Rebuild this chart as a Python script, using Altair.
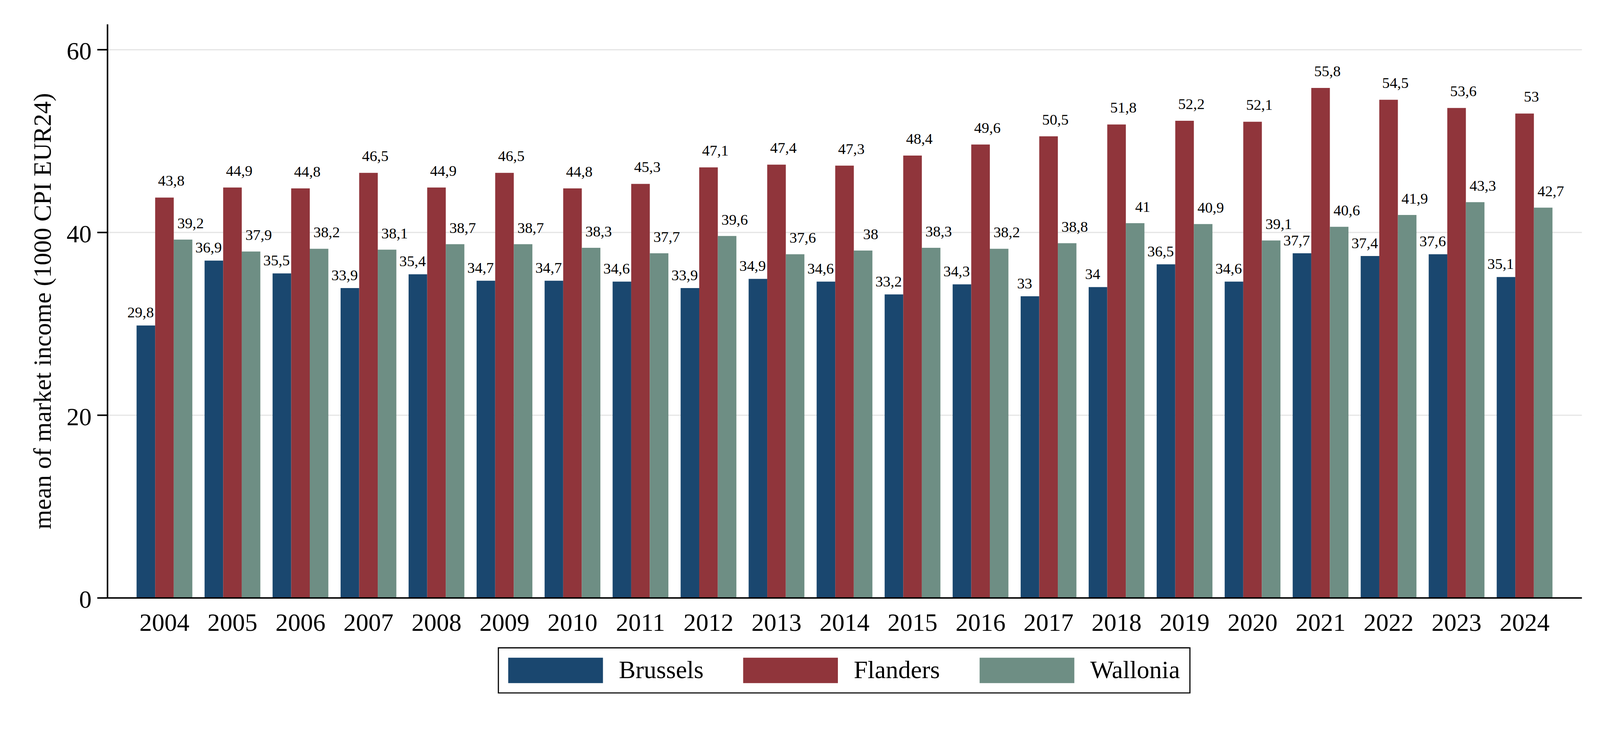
import altair as alt
import pandas as pd

years = [str(y) for y in range(2004, 2025)]
regions = ["Brussels", "Flanders", "Wallonia"]
brussels = [29.8, 36.9, 35.5, 33.9, 35.4, 34.7, 34.7, 34.6, 33.9, 34.9, 34.6,
            33.2, 34.3, 33.0, 34.0, 36.5, 34.6, 37.7, 37.4, 37.6, 35.1]
flanders = [43.8, 44.9, 44.8, 46.5, 44.9, 46.5, 44.8, 45.3, 47.1, 47.4, 47.3,
            48.4, 49.6, 50.5, 51.8, 52.2, 52.1, 55.8, 54.5, 53.6, 53.0]
wallonia = [39.2, 37.9, 38.2, 38.1, 38.7, 38.7, 38.3, 37.7, 39.6, 37.6, 38.0,
            38.3, 38.2, 38.8, 41.0, 40.9, 39.1, 40.6, 41.9, 43.3, 42.7]
colors = ["#1a476f", "#90353b", "#6e8e84"]
y_ticks = [0, 20, 40, 60]

rows = []
for i, yr in enumerate(years):
    for r, vals in zip(regions, [brussels, flanders, wallonia]):
        v = vals[i]
        rows.append({"year": yr, "region": r, "value": v,
                     "label": f"{v:g}".replace(".", ",")})
df = pd.DataFrame(rows)

FONT = "Liberation Serif"
W, H = 3891, 1513

x_enc = alt.X(
    "year:O", title=None, sort=years,
    scale=alt.Scale(paddingInner=0.18, paddingOuter=0.43),
    axis=alt.Axis(labelAngle=0, ticks=False, tickSize=0, labelPadding=35,
                  labelFont=FONT, labelFontSize=66, labelColor="black",
                  domainColor="black", domainWidth=4, grid=False, zindex=1),
)
xoff_enc = alt.XOffset("region:N", sort=regions,
                       scale=alt.Scale(paddingInner=0, paddingOuter=0))
y_enc = alt.Y(
    "value:Q",
    scale=alt.Scale(domain=[0, 62.78], nice=False, zero=True),
    axis=alt.Axis(values=y_ticks, title="mean of market income (1000 CPI EUR24)",
                  titleFont=FONT, titleFontSize=66, titleFontWeight="normal",
                  titleColor="black", titleX=-150, titleY=H / 2,
                  titleBaseline="alphabetic", titleAlign="center",
                  labelFont=FONT, labelFontSize=66, labelColor="black",
                  labelPadding=15, labelOffset=6,
                  tickSize=27, tickWidth=4, tickColor="black",
                  domainColor="black", domainWidth=4,
                  grid=True, gridColor="#e4e4e4", gridWidth=3),
)

bars = alt.Chart(df).mark_bar().encode(
    x=x_enc,
    xOffset=xoff_enc,
    y=y_enc,
    color=alt.Color(
        "region:N", sort=regions,
        scale=alt.Scale(domain=regions, range=colors),
        legend=alt.Legend(
            title=None, orient="none", legendX=1032, legendY=1645,
            direction="horizontal", columns=3,
            symbolType="M-1,-1H6.4627V1H-1Z", symbolSize=4489,
            symbolStrokeWidth=0, symbolOpacity=1,
            labelFont=FONT, labelFontSize=66, labelColor="black",
            labelOffset=225, labelLimit=1000, columnPadding=104,
            padding=26, strokeColor="black",
        ),
    ),
)

label_style = {"Brussels": (-14, -21), "Flanders": (18, -31), "Wallonia": (20, -30)}
layers = [bars]
for r in regions:
    dx, dy = label_style[r]
    layers.append(
        alt.Chart(df).transform_filter(alt.datum.region == r)
        .mark_text(dx=dx, dy=dy, baseline="alphabetic", align="center",
                   font=FONT, fontSize=40, color="black")
        .encode(x=x_enc, xOffset=xoff_enc, y=y_enc, text="label:N")
    )

chart = (
    alt.layer(*layers)
    .properties(width=W, height=H,
                autosize=alt.AutoSizeParams(type="none"),
                padding={"left": 275, "top": 27, "right": 40, "bottom": 300})
    .configure_view(stroke=None)
    .configure_legend(strokeWidth=3)
)

chart.save("out.html", embed_options={"renderer": "svg", "actions": False})
